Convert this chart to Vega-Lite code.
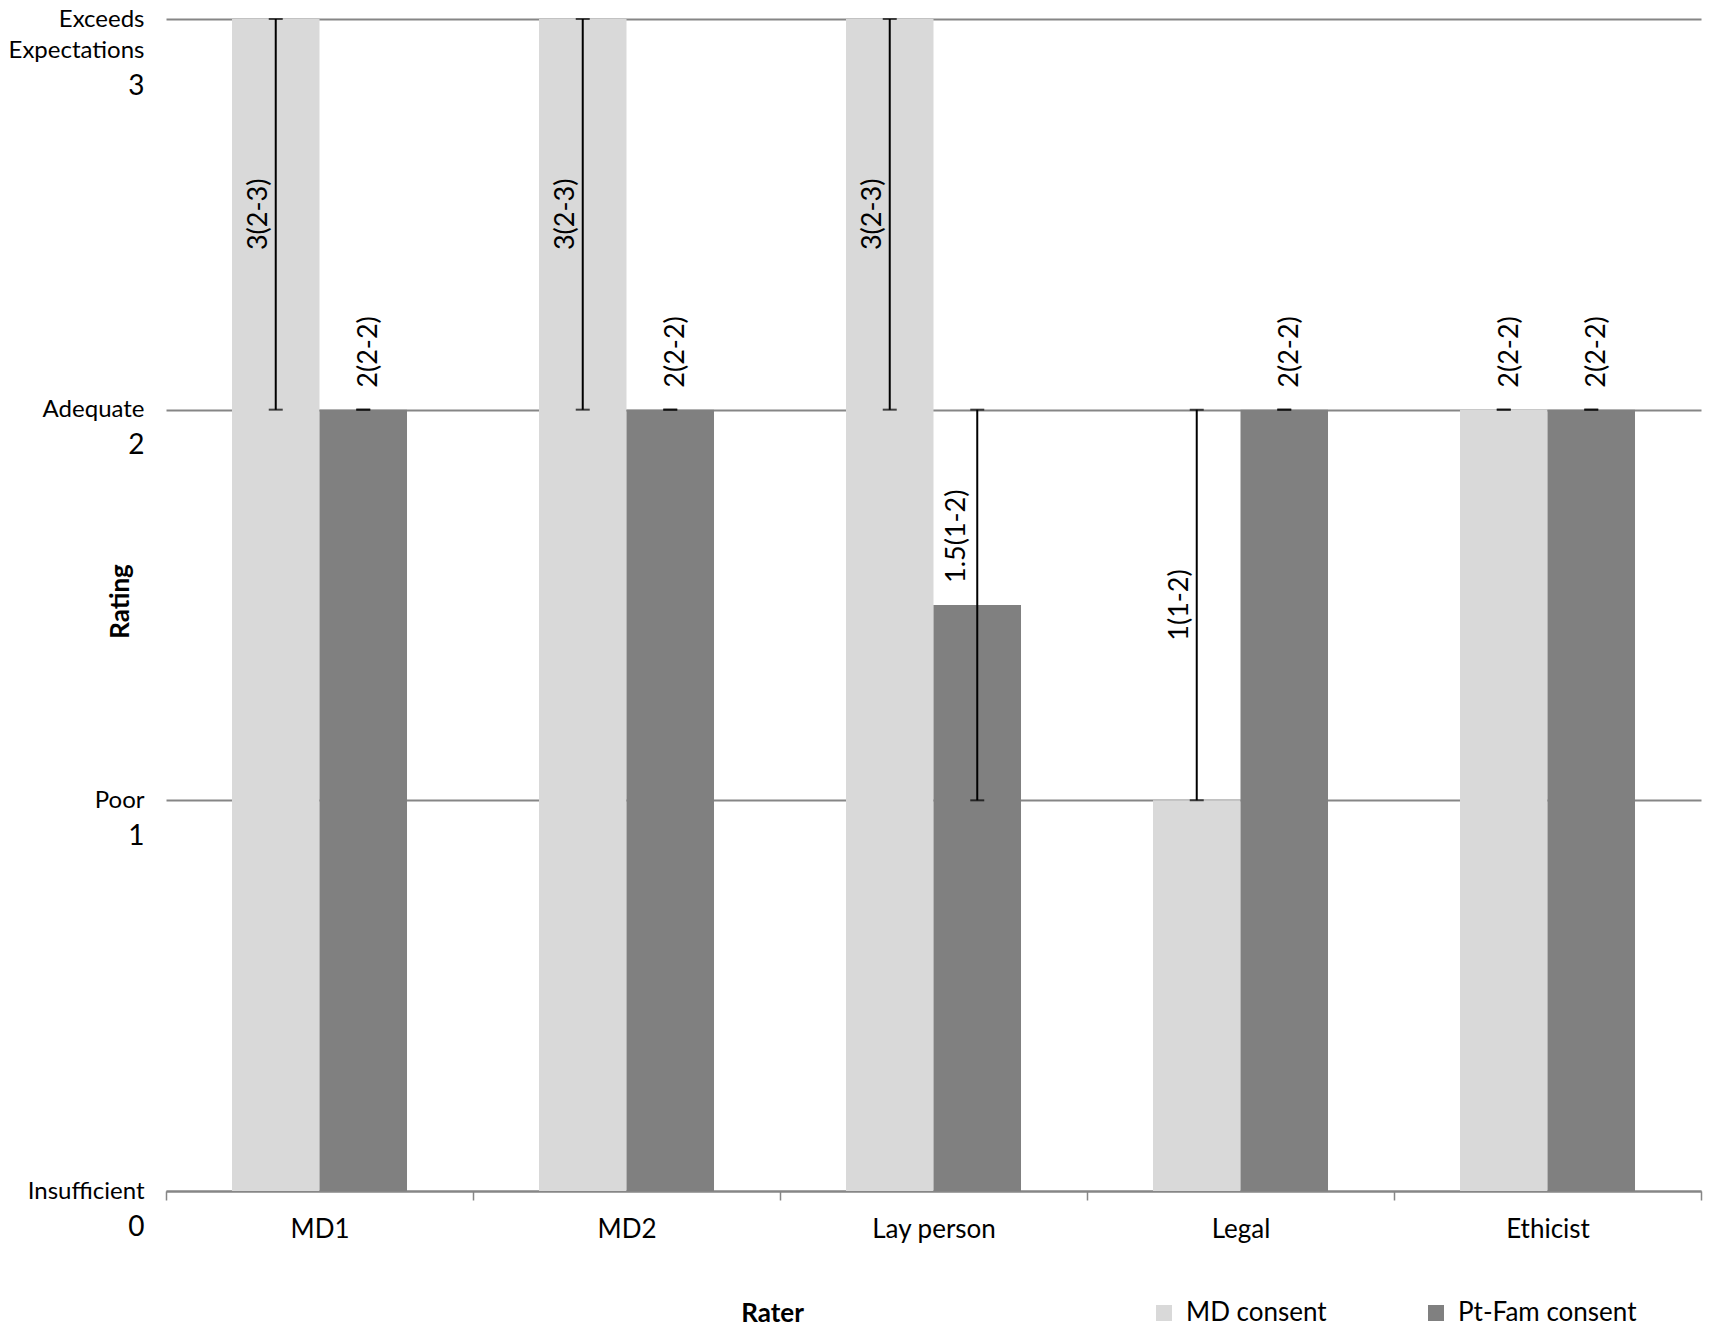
{
  "$schema": "https://vega.github.io/schema/vega-lite/v6.json",
  "autosize": {"type": "none"},
  "padding": {"left": 166, "top": 19, "right": 12, "bottom": 142},
  "width": 1535,
  "height": 1172,
  "background": "white",
  "config": {"view": {"stroke": null}, "font": "Lato"},
  "data": {
    "values": [
      {"rater": "MD1", "consent": "MD consent", "median": 3, "lo": 2, "hi": 3, "label": "3(2-3)"},
      {"rater": "MD1", "consent": "Pt-Fam consent", "median": 2, "lo": 2, "hi": 2, "label": "2(2-2)"},
      {"rater": "MD2", "consent": "MD consent", "median": 3, "lo": 2, "hi": 3, "label": "3(2-3)"},
      {"rater": "MD2", "consent": "Pt-Fam consent", "median": 2, "lo": 2, "hi": 2, "label": "2(2-2)"},
      {"rater": "Lay person", "consent": "MD consent", "median": 3, "lo": 2, "hi": 3, "label": "3(2-3)"},
      {"rater": "Lay person", "consent": "Pt-Fam consent", "median": 1.5, "lo": 1, "hi": 2, "label": "1.5(1-2)"},
      {"rater": "Legal", "consent": "MD consent", "median": 1, "lo": 1, "hi": 2, "label": "1(1-2)"},
      {"rater": "Legal", "consent": "Pt-Fam consent", "median": 2, "lo": 2, "hi": 2, "label": "2(2-2)"},
      {"rater": "Ethicist", "consent": "MD consent", "median": 2, "lo": 2, "hi": 2, "label": "2(2-2)"},
      {"rater": "Ethicist", "consent": "Pt-Fam consent", "median": 2, "lo": 2, "hi": 2, "label": "2(2-2)"}
    ]
  },
  "encoding": {
    "x": {
      "field": "rater",
      "type": "nominal",
      "sort": ["MD1", "MD2", "Lay person", "Legal", "Ethicist"],
      "scale": {"paddingInner": 0, "paddingOuter": 0},
      "axis": {
        "title": "Rater",
        "titleFontSize": 26,
        "titleFontWeight": "bold",
        "titleColor": "black",
        "titleX": 606,
        "titleY": 122,
        "titleAlign": "center",
        "titleBaseline": "middle",
        "labelFontSize": 26,
        "labelColor": "black",
        "labelAngle": 0,
        "labelBaseline": "middle",
        "labelPadding": 29,
        "tickBand": "extent",
        "tickSize": 9,
        "tickColor": "#868686",
        "tickWidth": 1.5,
        "domainColor": "#868686",
        "domainWidth": 2,
        "grid": false
      }
    },
    "xOffset": {
      "field": "consent",
      "type": "nominal",
      "scale": {"paddingInner": 0, "paddingOuter": 0.754}
    }
  },
  "layer": [
    {
      "mark": {"type": "bar"},
      "encoding": {
        "y": {
          "field": "median",
          "type": "quantitative",
          "scale": {"domain": [0, 3], "nice": false},
          "axis": {
            "orient": "left",
            "values": [0, 1, 2, 3],
            "title": "Rating",
            "titleFontSize": 26,
            "titleFontWeight": "bold",
            "titleColor": "black",
            "titleAngle": 270,
            "titleX": -46,
            "titleY": 582,
            "titleAlign": "center",
            "titleBaseline": "middle",
            "labelExpr": "datum.value == 3 ? ['Exceeds', 'Expectations'] : datum.value == 2 ? 'Adequate' : datum.value == 1 ? 'Poor' : 'Insufficient'",
            "labelFontSize": 24,
            "labelColor": "black",
            "labelBaseline": "middle",
            "labelLineHeight": 31,
            "labelPadding": 22,
            "labelOverlap": false,
            "ticks": false,
            "domain": false,
            "grid": true,
            "gridColor": "#868686",
            "gridWidth": 2
          }
        },
        "color": {
          "field": "consent",
          "type": "nominal",
          "scale": {"domain": ["MD consent", "Pt-Fam consent"], "range": ["#d9d9d9", "#808080"]},
          "legend": {
            "orient": "none",
            "legendX": 985,
            "legendY": 1281,
            "direction": "horizontal",
            "title": null,
            "symbolType": "square",
            "symbolSize": 256,
            "symbolStrokeWidth": 0,
            "labelFontSize": 26,
            "labelColor": "black",
            "labelLimit": 400,
            "labelOffset": 9,
            "columnPadding": 96
          }
        }
      }
    },
    {
      "mark": {"type": "rule", "color": "black", "strokeWidth": 2},
      "encoding": {
        "y": {
          "field": "lo",
          "type": "quantitative",
          "axis": {
            "orient": "left",
            "values": [0, 1, 2, 3],
            "title": null,
            "labelExpr": "datum.value == 3 ? ['', '3'] : datum.label",
            "labelFontSize": 28,
            "labelColor": "black",
            "labelBaseline": "middle",
            "labelOffset": 36,
            "labelLineHeight": 31,
            "labelPadding": 22,
            "labelOverlap": false,
            "ticks": false,
            "domain": false,
            "grid": false
          }
        },
        "y2": {"field": "hi"}
      }
    },
    {
      "mark": {"type": "tick", "color": "black", "size": 14, "thickness": 2, "orient": "horizontal"},
      "encoding": {"y": {"field": "lo", "type": "quantitative", "axis": null}}
    },
    {
      "mark": {"type": "tick", "color": "black", "size": 14, "thickness": 2, "orient": "horizontal"},
      "encoding": {"y": {"field": "hi", "type": "quantitative", "axis": null}}
    },
    {
      "transform": [{"filter": "datum.lo == datum.hi"}],
      "mark": {"type": "text", "angle": 270, "align": "left", "baseline": "middle", "dx": 22, "dy": 6, "fontSize": 27, "color": "black"},
      "encoding": {
        "y": {"field": "median", "type": "quantitative", "axis": null},
        "text": {"field": "label"}
      }
    },
    {
      "transform": [{"filter": "datum.lo < datum.median && datum.median < datum.hi"}],
      "mark": {"type": "text", "angle": 270, "align": "left", "baseline": "middle", "dx": 22, "dy": -20, "fontSize": 27, "color": "black"},
      "encoding": {
        "y": {"field": "median", "type": "quantitative", "axis": null},
        "text": {"field": "label"}
      }
    },
    {
      "transform": [
        {"filter": "datum.lo < datum.hi && (datum.median == datum.lo || datum.median == datum.hi)"},
        {"calculate": "(datum.lo + datum.hi) / 2", "as": "mid"}
      ],
      "mark": {"type": "text", "angle": 270, "align": "center", "baseline": "middle", "dy": -17, "fontSize": 27, "color": "black"},
      "encoding": {
        "y": {"field": "mid", "type": "quantitative", "axis": null},
        "text": {"field": "label"}
      }
    }
  ],
  "resolve": {"axis": {"y": "independent"}}
}
